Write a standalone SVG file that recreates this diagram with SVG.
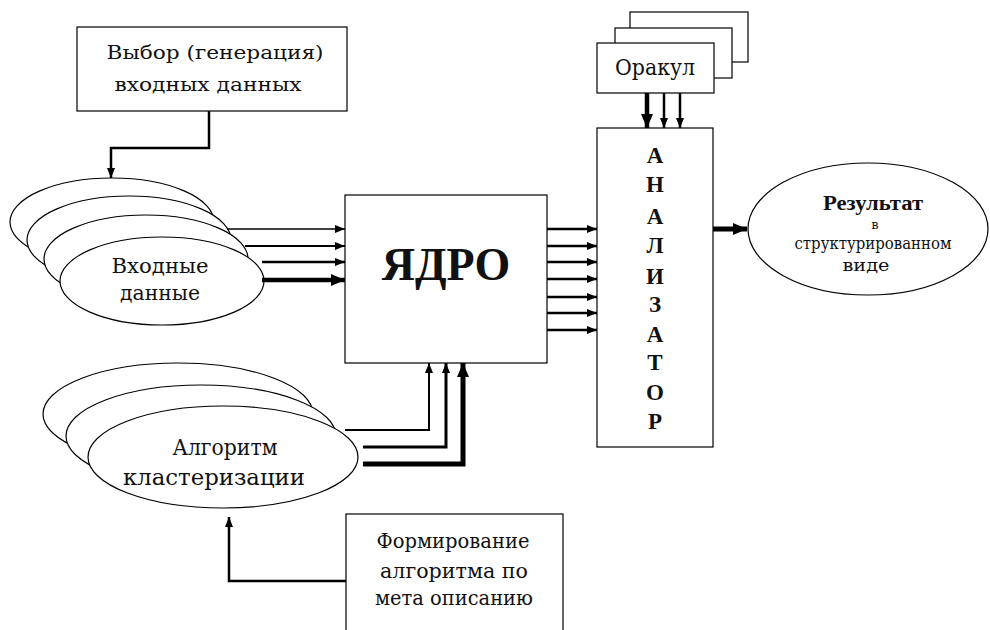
<svg xmlns="http://www.w3.org/2000/svg" width="990" height="630" viewBox="0 0 990 630">
<style>
.box{fill:#fff;stroke:#000;stroke-width:1.2}
.ell{fill:#fff;stroke:#000;stroke-width:1.2}
.t{fill:#111;text-anchor:middle;font-family:"DejaVu Serif","Liberation Serif",serif}
.b{font-weight:bold;font-family:"Liberation Serif","DejaVu Serif",serif}
.c{fill:none;stroke:#000}
</style>
<defs>
<marker id="a" markerUnits="userSpaceOnUse" markerWidth="10" markerHeight="8" refX="10" refY="4" orient="auto"><path d="M0,0 L10,4 L0,8 z" fill="#000"/></marker>
<marker id="A" markerUnits="userSpaceOnUse" markerWidth="14" markerHeight="12" refX="14" refY="6" orient="auto"><path d="M0,0 L14,6 L0,12 z" fill="#000"/></marker>
</defs>
<rect width="990" height="630" fill="#fff"/>

<g id="select-input">
<rect class="box" x="77" y="27" width="270" height="84"/>
<text class="t" x="215" y="59" font-size="19" textLength="217" lengthAdjust="spacingAndGlyphs">Выбор (генерация)</text>
<text class="t" x="208" y="91" font-size="19" textLength="187" lengthAdjust="spacingAndGlyphs">входных данных</text>
</g>

<g id="input-data">
<ellipse class="ell" cx="112" cy="222" rx="102" ry="44"/>
<ellipse class="ell" cx="129" cy="240" rx="102" ry="44"/>
<ellipse class="ell" cx="146" cy="259" rx="102" ry="44"/>
<ellipse class="ell" cx="162" cy="281" rx="102" ry="44"/>
<text class="t" x="160" y="273" font-size="21" textLength="97" lengthAdjust="spacingAndGlyphs">Входные</text>
<text class="t" x="160" y="300" font-size="21" textLength="80" lengthAdjust="spacingAndGlyphs">данные</text>
</g>

<g id="core">
<rect class="box" x="345" y="195" width="202" height="168"/>
<text class="t b" x="446" y="280" font-size="46">ЯДРО</text>
</g>

<g id="oracle">
<rect class="box" x="630" y="12" width="118" height="50"/>
<rect class="box" x="615" y="28" width="117" height="50"/>
<rect class="box" x="597" y="43" width="117" height="50"/>
<text class="t" x="655" y="75" font-size="22" textLength="80" lengthAdjust="spacingAndGlyphs">Оракул</text>
</g>

<g id="analyzer">
<rect class="box" x="597" y="128" width="116" height="319"/>
<g class="t b" font-size="23">
<text x="655" y="163">А</text>
<text x="655" y="192">Н</text>
<text x="655" y="224">А</text>
<text x="655" y="253">Л</text>
<text x="655" y="284">И</text>
<text x="655" y="312">З</text>
<text x="655" y="342">А</text>
<text x="655" y="370">Т</text>
<text x="655" y="400">О</text>
<text x="655" y="429">Р</text>
</g>
</g>

<g id="result">
<ellipse class="ell" cx="868" cy="229" rx="120" ry="66"/>
<text class="t b" x="873" y="210" font-size="20" textLength="100" lengthAdjust="spacingAndGlyphs">Результат</text>
<text class="t" x="875" y="229" font-size="13">в</text>
<text class="t" x="873" y="249" font-size="16" textLength="157" lengthAdjust="spacingAndGlyphs">структурированном</text>
<text class="t" x="866" y="271" font-size="16" textLength="47" lengthAdjust="spacingAndGlyphs">виде</text>
</g>

<g id="algorithm">
<ellipse class="ell" cx="178" cy="414" rx="135" ry="51"/>
<ellipse class="ell" cx="201" cy="436" rx="135" ry="51"/>
<ellipse class="ell" cx="223" cy="457" rx="135" ry="51"/>
<text class="t" x="225" y="455" font-size="23" textLength="105" lengthAdjust="spacingAndGlyphs">Алгоритм</text>
<text class="t" x="214" y="485" font-size="23" textLength="182" lengthAdjust="spacingAndGlyphs">кластеризации</text>
</g>

<g id="form-algorithm">
<rect class="box" x="346" y="514" width="217" height="130"/>
<text class="t" x="453" y="548" font-size="21" textLength="153" lengthAdjust="spacingAndGlyphs">Формирование</text>
<text class="t" x="454" y="578" font-size="21" textLength="148" lengthAdjust="spacingAndGlyphs">алгоритма по</text>
<text class="t" x="454" y="605" font-size="21" textLength="158" lengthAdjust="spacingAndGlyphs">мета описанию</text>
</g>

<g id="connectors">
<path class="c" stroke-width="2.5" d="M209,111 V148 H111 V178" marker-end="url(#a)"/>
<path class="c" stroke-width="1.5" d="M227,229 H345" marker-end="url(#a)"/>
<path class="c" stroke-width="2" d="M245,246 H345" marker-end="url(#a)"/>
<path class="c" stroke-width="2.5" d="M262,262 H345" marker-end="url(#a)"/>
<path class="c" stroke-width="4.5" d="M262,280 H345" marker-end="url(#A)"/>
<path class="c" stroke-width="2.5" d="M547,229 H597" marker-end="url(#a)"/>
<path class="c" stroke-width="2.5" d="M547,246 H597" marker-end="url(#a)"/>
<path class="c" stroke-width="2.5" d="M547,262 H597" marker-end="url(#a)"/>
<path class="c" stroke-width="2.5" d="M547,279 H597" marker-end="url(#a)"/>
<path class="c" stroke-width="2.5" d="M547,297 H597" marker-end="url(#a)"/>
<path class="c" stroke-width="2.5" d="M547,313 H597" marker-end="url(#a)"/>
<path class="c" stroke-width="2.5" d="M547,330 H597" marker-end="url(#a)"/>
<path class="c" stroke-width="4.5" d="M647,93 V128" marker-end="url(#A)"/>
<path class="c" stroke-width="2.5" d="M664,93 V128" marker-end="url(#a)"/>
<path class="c" stroke-width="2.5" d="M680,93 V128" marker-end="url(#a)"/>
<path class="c" stroke-width="5" d="M713,229 H747" marker-end="url(#A)"/>
<path class="c" stroke-width="2" d="M345,430 H429 V363" marker-end="url(#a)"/>
<path class="c" stroke-width="3" d="M363,447 H446 V363" marker-end="url(#a)"/>
<path class="c" stroke-width="5" d="M363,464 H463 V363" marker-end="url(#A)"/>
<path class="c" stroke-width="2.5" d="M346,581 H229 V517" marker-end="url(#a)"/>
</g>
</svg>
